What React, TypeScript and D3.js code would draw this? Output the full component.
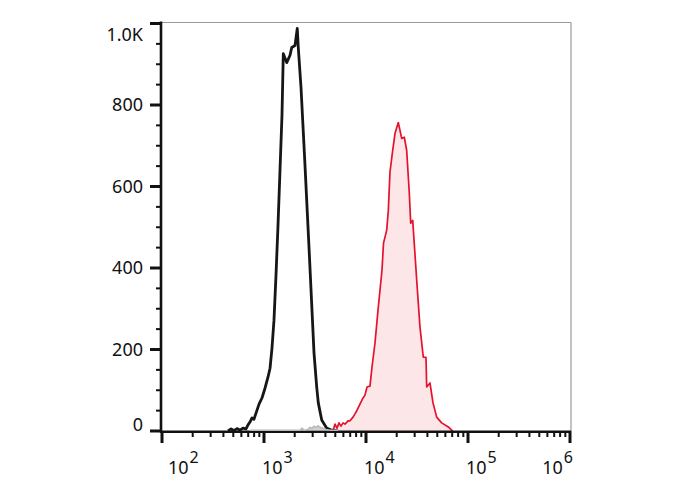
import React from "react";
import * as d3 from "d3";

// ---- data (fluorescence intensity, event count) ----
const controlX = [444, 475, 508, 544, 582, 622, 666, 697, 729, 763, 798, 835, 894, 955, 1023, 1094, 1146, 1197, 1253, 1311, 1372, 1435, 1501, 1546, 1670, 1799, 1870, 2014, 2119, 2168, 2306, 2523, 2780, 3093, 3286, 3407, 3680, 4121, 4611, 5312];
const controlY = [0, 5, 1, 6, 2, 7, 5, 15, 22, 32, 29, 44, 66, 81, 105, 132, 154, 203, 272, 382, 505, 640, 775, 926, 904, 922, 941, 946, 988, 941, 843, 652, 436, 191, 108, 69, 27, 7, 2, 0];

const stainedX = [4748, 4966, 5196, 5434, 5685, 5954, 6223, 6668, 6970, 7463, 7800, 8166, 8730, 9354, 9772, 10233, 10940, 11450, 12250, 13120, 14350, 14850, 15960, 16560, 17180, 17990, 19230, 20730, 22390, 23730, 25050, 26590, 27430, 28710, 31420, 33830, 36460, 38730, 39360, 42380, 45380, 49330, 55200, 64110, 69180, 71250];
const stainedY = [0, 17, 7, 20, 12, 20, 17, 25, 25, 34, 42, 51, 66, 81, 88, 108, 110, 157, 216, 297, 395, 461, 493, 542, 635, 676, 730, 757, 718, 721, 689, 583, 510, 517, 370, 255, 181, 181, 108, 118, 69, 34, 20, 10, 2, 0];

const unstainedX = [729, 2253, 2358, 2467, 2700, 2825, 2956, 3093, 3236, 3386, 3541, 3789, 4054, 4437, 5312];
const unstainedY = [0, 0, 5, 0, 2, 7, 5, 10, 7, 11, 7, 5, 2, 0, 0];

const yTickValues = [0, 200, 400, 600, 800, 1000];
const yTickLabels = ["0", "200", "400", "600", "800", "1.0K"];
const xDecades = [2, 3, 4, 5, 6];

const W = 688, H = 490;
const FONT = "'Noto Sans', sans-serif";

export default function App() {
  const x = d3.scaleLog().domain([100, 1e6]).range([162, 570]);
  const y = d3.scaleLinear().domain([0, 1000]).range([431, 23.5]);
  const left = 161, right = 571, top = 22.5, bottom = 431;

  const zip = (xs: number[], ys: number[]) => xs.map((v, i) => [v, ys[i]] as [number, number]);
  const line = d3.line<[number, number]>().x(d => x(d[0])).y(d => y(d[1]));
  const area = d3.area<[number, number]>().x(d => x(d[0])).y0(y(0)).y1(d => y(d[1]));

  const control = zip(controlX, controlY);
  const stained = zip(stainedX, stainedY);
  const unstained = zip(unstainedX, unstainedY);

  const xTicks = x.ticks();
  const yTicks = y.ticks(20);

  return (
    <svg width={W} height={H} style={{ position: "absolute", left: 0, top: 0, background: "#fff" }} fontFamily={FONT}>
      <rect x={0} y={0} width={W} height={H} fill="#fff" />
      {/* frame */}
      <line x1={left} x2={right} y1={top} y2={top} stroke="#9a9a9a" strokeWidth={1.2} />
      <line x1={right} x2={right} y1={top} y2={bottom} stroke="#9a9a9a" strokeWidth={1.2} />

      {/* stained (red) */}
      <path d={area(stained) || ""} fill="#fde6e8" />
      <path d={line(stained) || ""} fill="none" stroke="#e5112d" strokeWidth={1.7} strokeLinejoin="round" />

      {/* control (black) */}
      <path d={line(control) || ""} fill="none" stroke="#161616" strokeWidth={2.8} strokeLinejoin="round" />

      {/* axes */}
      <line x1={left} x2={left} y1={top - 1} y2={bottom + 1.5} stroke="#111" strokeWidth={2.6} />
      <line x1={left - 1} x2={right} y1={bottom + 0.8} y2={bottom + 0.8} stroke="#111" strokeWidth={2.4} />

      {/* unstained (gray) sits on the baseline */}
      <path d={area(unstained) || ""} fill="#cfcfcf" transform="translate(0,-0.8)" />
      <path d={line(unstained) || ""} fill="none" stroke="#b8b8b8" strokeWidth={1.5} transform="translate(0,-0.8)" />

      {/* y ticks */}
      {yTicks.map(v => {
        const major = v % 200 === 0;
        return (
          <line key={"yt" + v} x1={major ? 150 : 156} x2={left} y1={y(v)} y2={y(v)} stroke="#111" strokeWidth={major ? 3 : 2} />
        );
      })}
      {yTickValues.map((v, i) => {
        let yy = y(v);
        if (i === 0) yy -= 6;
        if (i === yTickValues.length - 1) yy += 11;
        return (
          <text key={"yl" + v} x={143} y={yy} dy="0.36em" textAnchor="end" fontSize={18} fill="#111">
            {yTickLabels[i]}
          </text>
        );
      })}

      {/* x ticks */}
      {xTicks.map(v => {
        const lg = Math.log10(v);
        const major = Math.abs(lg - Math.round(lg)) < 1e-9;
        return (
          <line key={"xt" + v} x1={x(v)} x2={x(v)} y1={bottom} y2={bottom + (major ? 12 : 6)} stroke="#111" strokeWidth={major ? 3 : 2} />
        );
      })}
      {xDecades.map((e, i) => {
        const px = x(Math.pow(10, e));
        let anchor: "start" | "end" = "start";
        let tx = px - 2;
        if (i === 0) tx = px + 6;
        if (i === xDecades.length - 1) { anchor = "end"; tx = px + 3; }
        return (
          <text key={"xl" + e} x={tx} y={474} textAnchor={anchor} fontSize={18} fill="#111">
            10<tspan fontSize={16} dx={1} dy={-11}>{e}</tspan>
          </text>
        );
      })}
    </svg>
  );
}
